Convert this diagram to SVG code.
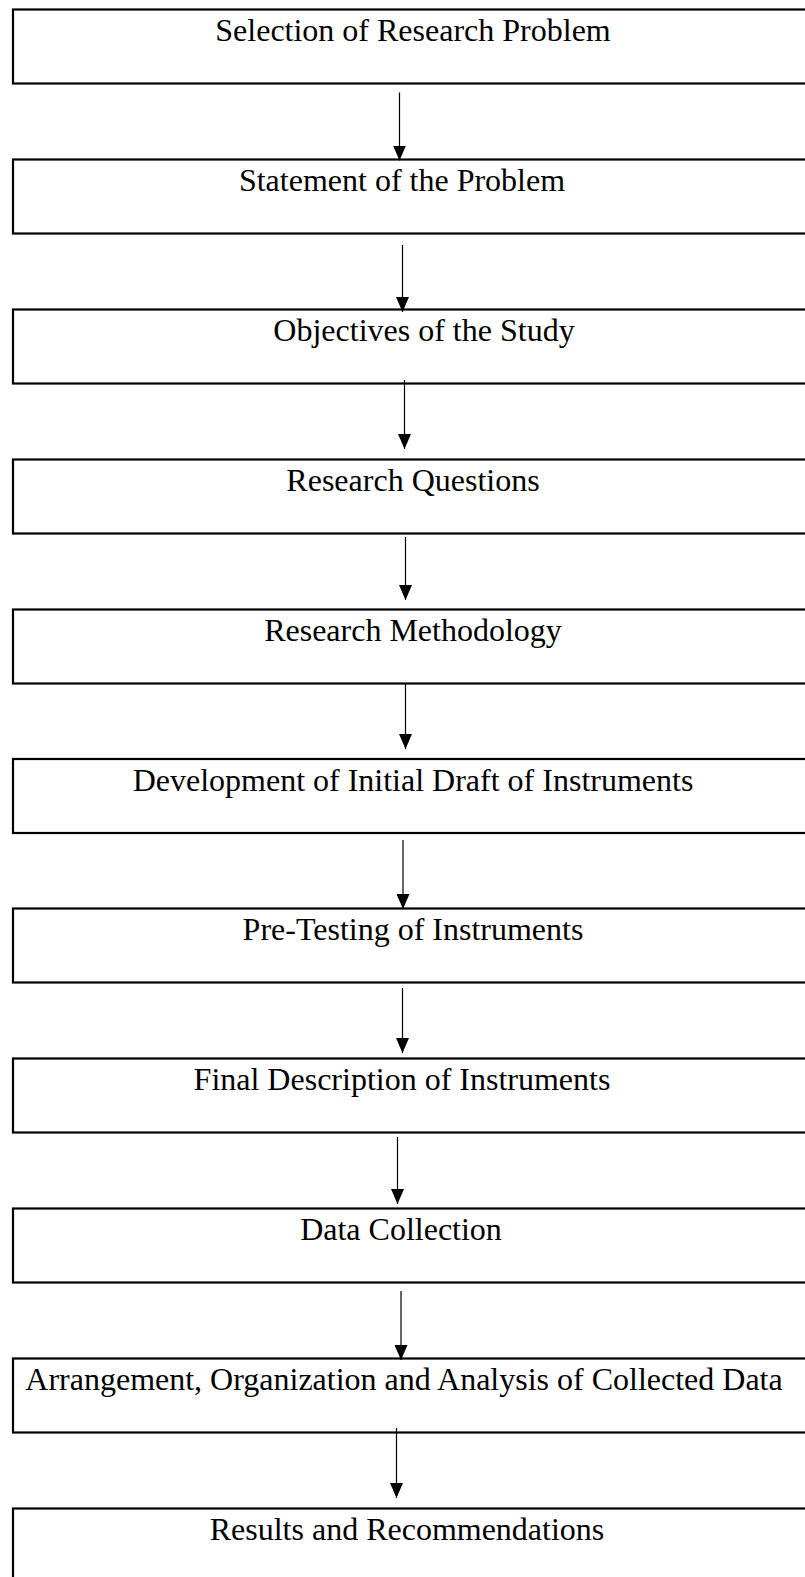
<svg xmlns="http://www.w3.org/2000/svg" width="805" height="1577" viewBox="0 0 805 1577">
  <style>
    .box { fill: #ffffff; stroke: #000000; stroke-width: 2.2; }
    .label { font-family: "Liberation Serif", "Times New Roman", serif; font-size: 32px; fill: #000000; text-anchor: middle; }
    .flow { stroke: #000000; stroke-width: 1.2; fill: none; marker-end: url(#head); }
  </style>
  <defs>
    <marker id="head" viewBox="0 0 15 13" refX="15" refY="6.5" markerWidth="15" markerHeight="13" markerUnits="userSpaceOnUse" orient="auto">
      <path d="M0,0 L15,6.5 L0,13 z" fill="#000000"/>
    </marker>
  </defs>
  <rect width="805" height="1577" fill="#ffffff"/>

  <!-- process steps -->
  <g id="step-selection">
    <rect class="box" x="13" y="9.5" width="820" height="74"/>
    <text class="label" x="413" y="41">Selection of Research Problem</text>
  </g>
  <g id="step-statement">
    <rect class="box" x="13" y="159.5" width="820" height="74"/>
    <text class="label" x="402" y="191">Statement of the Problem</text>
  </g>
  <g id="step-objectives">
    <rect class="box" x="13" y="309.5" width="820" height="74"/>
    <text class="label" x="424" y="341">Objectives of the Study</text>
  </g>
  <g id="step-questions">
    <rect class="box" x="13" y="459.5" width="820" height="74"/>
    <text class="label" x="413" y="491">Research Questions</text>
  </g>
  <g id="step-methodology">
    <rect class="box" x="13" y="609.5" width="820" height="74"/>
    <text class="label" x="413" y="641">Research Methodology</text>
  </g>
  <g id="step-draft">
    <rect class="box" x="13" y="759" width="820" height="74"/>
    <text class="label" x="413" y="791">Development of Initial Draft of Instruments</text>
  </g>
  <g id="step-pretesting">
    <rect class="box" x="13" y="908.5" width="820" height="74"/>
    <text class="label" x="413" y="940">Pre-Testing of Instruments</text>
  </g>
  <g id="step-final">
    <rect class="box" x="13" y="1058.5" width="820" height="74"/>
    <text class="label" x="402" y="1090">Final Description of Instruments</text>
  </g>
  <g id="step-collection">
    <rect class="box" x="13" y="1208.5" width="820" height="74"/>
    <text class="label" x="401" y="1240">Data Collection</text>
  </g>
  <g id="step-analysis">
    <rect class="box" x="13" y="1358.5" width="820" height="74"/>
    <text class="label" x="404" y="1390">Arrangement, Organization and Analysis of Collected Data</text>
  </g>
  <g id="step-results">
    <rect class="box" x="13" y="1508.5" width="820" height="100"/>
    <text class="label" x="407" y="1540">Results and Recommendations</text>
  </g>

  <!-- connectors -->
  <g id="connectors">
    <line class="flow" x1="399.5" y1="92.5" x2="399.5" y2="160.5"/>
    <line class="flow" x1="402.5" y1="245" x2="402.5" y2="312"/>
    <line class="flow" x1="404.5" y1="380" x2="404.5" y2="449"/>
    <line class="flow" x1="405.5" y1="537" x2="405.5" y2="600"/>
    <line class="flow" x1="405.5" y1="683" x2="405.5" y2="749"/>
    <line class="flow" x1="403" y1="840" x2="403" y2="909"/>
    <line class="flow" x1="402.5" y1="988" x2="402.5" y2="1053"/>
    <line class="flow" x1="397.5" y1="1137" x2="397.5" y2="1204"/>
    <line class="flow" x1="401" y1="1291" x2="401" y2="1360"/>
    <line class="flow" x1="396.5" y1="1428" x2="396.5" y2="1498"/>
  </g>
</svg>
